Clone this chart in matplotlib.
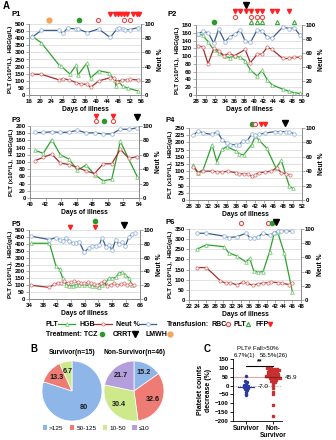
import numpy as np
import matplotlib.pyplot as plt
import matplotlib.transforms as mtransforms
from matplotlib.patches import Patch

plt.rcParams['font.family'] = ['Liberation Sans', 'DejaVu Sans']
plt.rcParams['font.size'] = 5
plt.rcParams['font.weight'] = 'bold'
plt.rcParams['axes.labelweight'] = 'bold'
plt.rcParams['axes.linewidth'] = 0.6

W, H = 336, 440

# ---------------- panel A data ----------------
p1_plt_day = [17, 20.4, 26.8, 27.4, 30.6, 32.9, 33.5, 36.6, 38, 40.9, 44.5, 46.6, 47, 47.8, 49.4, 51.5, 55]
p1_plt = [415, 368, 209, 204, 148, 211, 141, 223, 120, 171, 157, 106, 63, 99, 63, 47, 28]
p1_hgb_day = [17, 20.4, 26.8, 28, 30.4, 32.9, 34.5, 36.8, 38, 40.9, 45, 46.2, 47.4, 49.2, 51, 52, 55]
p1_hgb = [146, 146, 106, 115, 106, 87, 77, 75, 54, 99, 122, 117, 94, 106, 106, 110, 106]
p1_neut_day = [17, 20.4, 26.8, 28, 29.8, 32.9, 33.5, 36.8, 40.9, 45, 47.4, 48.2, 49.4, 50.4, 52, 55]
p1_neut = [81, 91, 91, 87, 94, 93, 93, 88, 93, 81, 93, 95, 93, 92, 92, 95]
p1_lmwh = [23.3]
p1_tcz = [33.9]
p1_rbc = [40.7, 49.8, 51.9]
p1_ffp = [45.1, 46.8, 47.9, 48.9, 50, 51, 53.3, 54.4, 55.4]

p2_day = [28.4, 29.4, 30.5, 31.7, 32.7, 34, 35, 36.1, 37.2, 38.2, 39.3, 40.7, 41.7, 42.8, 43.8, 46, 47.4, 48.4, 49.5]
p2_plt = [156, 154, 137, 116, 109, 99, 96, 100, 97, 88, 64, 49, 63, 39, 26, 15, 9, 6, 4]
p2_neut = [87, 91, 89, 74, 94, 76, 83, 87, 93, 77, 75, 93, 91, 83, 81, 97, 95, 96, 86]
p2_hgb_day = [28.4, 29.4, 30.5, 31.7, 32.7, 33.8, 34.8, 36, 38.2, 39.3, 40.7, 41.7, 42.8, 43.8, 46, 47.4, 48.4, 49.5]
p2_hgb = [127, 123, 80, 120, 114, 101, 107, 101, 117, 83, 105, 105, 123, 117, 94, 94, 97, 97]
p2_tcz = [31.7]
p2_ffp = [36, 37.2, 38.4, 39.5, 40.7, 41.8, 43.8, 44.9, 47.2]
p2_rbc = [36, 39.5, 40.7, 41.8]
p2_pltx = [39.5, 40.7, 41.8, 44.9, 48.4]
p2_crrt = [38.4]

p3_day = [40.7, 41.7, 42.8, 43.9, 45, 46.1, 47.2, 48.3, 49.4, 50.5, 51.6, 52.7, 53.8]
p3_neut = [91, 91, 92, 91, 91.5, 94, 90.5, 90.5, 89, 89, 95.5, 95.5, 97.5]
p3_hgb = [104, 113, 122, 97, 93, 85, 75, 68, 95, 95, 135, 110, 115]
p3_plt_day = [40.7, 41.7, 42.8, 43.9, 45, 46.1, 47.2, 48.3, 49.4, 50.5, 51.6, 53.8]
p3_plt = [132, 124, 162, 120, 108, 77, 92, 65, 48, 52, 157, 58]
p3_ffp = [48.5, 50.6]
p3_rbc = [48.5, 50.6]
p3_tcz = [49.5]
p3_crrt = [53.7]

p4_neut_day = [28.9, 30, 31, 32.9, 34, 35, 36, 36.8, 37.9, 38.7, 39.4, 40.3, 41.3, 42.1, 42.8, 44.2, 46.3, 47.4, 48.5, 49.3, 50.2]
p4_neut = [90, 96, 93, 91, 95, 84, 79, 77, 77, 77, 82, 82, 91, 90, 91, 93, 95, 95, 95, 95, 92]
p4_plt_day = [28.9, 29.9, 31, 32.9, 33.9, 35, 36, 37.9, 38.7, 39.6, 41.3, 42.1, 42.8, 44.5, 46.5, 47.6, 49.3, 50.1]
p4_plt = [122, 95, 105, 192, 133, 176, 185, 171, 160, 157, 192, 222, 209, 180, 110, 138, 48, 40]
p4_hgb_day = [28.9, 29.9, 31, 32.9, 34, 35, 36.2, 37.9, 38.7, 39.6, 40.5, 41.3, 42.1, 42.8, 44.2, 45.5, 46.6, 47.6, 48.5, 49.5]
p4_hgb = [116, 95, 100, 100, 98, 97, 100, 95, 91, 91, 91, 82, 87, 95, 97, 100, 112, 95, 91, 87]
p4_tcz = [41.3]
p4_rbc = [42.1]
p4_ffp = [43.2, 44.2]
p4_crrt = [48.3]

p5_neut_day = [34.7, 39.9, 41.8, 42.8, 43.7, 44.7, 45.6, 46.6, 47.5, 48.5, 49.9, 51.3, 52.3, 53.2, 54.2, 55.1, 56.1, 57, 58, 59,
               59.9, 60.9, 61.8, 62.8, 63.7, 64.7]
p5_neut = [91, 86, 89, 86, 84, 88, 84, 81, 81, 83, 68, 74, 77, 77, 78, 89, 76, 78, 71, 86, 79, 83, 77, 90, 94, 95]
p5_plt_day = [34.7, 39.9, 41.8, 42.8, 43.7, 44.7, 45.6, 46.6, 47.5, 48.5, 49.9, 51.3, 52.3, 53.2, 54.2, 55.1, 56.1, 57, 58, 59,
              59.9, 60.9, 61.8, 62.8, 63.7]
p5_plt = [404, 404, 236, 216, 151, 103, 96, 96, 103, 103, 103, 99, 96, 91, 84, 103, 115, 151, 151, 156, 188, 195, 175, 151, 103]
p5_hgb_day = [34.7, 39.9, 41.3, 42.3, 43.2, 44.2, 45.1, 46.1, 47, 48, 48.9, 49.9, 50.9, 51.8, 52.8, 53.7, 54.7, 55.6, 56.6, 57.5,
              58.5, 59.4, 60.4, 61.3, 62.3, 63.2, 64.2]
p5_hgb = [99, 84, 108, 115, 115, 127, 115, 123, 127, 123, 115, 115, 120, 115, 108, 103, 115, 127, 91, 103, 115, 99, 108, 115,
          103, 108, 103]
p5_ffp = [45.9, 53]
p5_tcz = [53]
p5_crrt = [61.3]

p6_plt_day = [23.8, 26, 30.1, 31.2, 33.1, 35.2, 36.1, 37, 38, 39.2, 40.7, 41.8, 42.6, 44.1, 46]
p6_plt = [250, 272, 263, 233, 217, 188, 205, 145, 137, 140, 237, 330, 333, 233, 40]
p6_neut_day = [23.8, 26, 30.1, 31.2, 33.1, 35.2, 36.1, 37, 38, 39.2, 40.7, 41.8, 42.6, 43.3, 44.5, 46]
p6_neut = [94, 94, 90, 88, 89, 94, 88, 87, 89, 94, 91, 95, 97, 97, 97, 97]
p6_hgb_day = [23.8, 26, 29.3, 30.6, 31.6, 33.1, 34.6, 35.4, 36.9, 38, 39.2, 40.3, 41.1, 42.6, 43.7, 45.3, 46]
p6_hgb = [160, 160, 95, 82, 85, 75, 88, 82, 72, 80, 83, 86, 88, 86, 82, 76, 82]
p6_rbc = [34.1, 40.3]
p6_tcz = [41.3]
p6_crrt = [42.2]

# ---------------- panel B data ----------------
pie_groups = ['>125', '50-125', '10-50', '≤10']
surv_pct = [80, 13.3, 6.7]
nonsurv_pct = [15.2, 32.6, 30.4, 21.7]

# ---------------- panel C data ----------------
surv_drop = [52, 25, 18, 10, 5, 0, -3, -8, -10, -15, -18, -25, -35, -45, -56]
nonsurv_drop = [100, 98, 97, 95, 93, 92, 90, 88, 86, 85, 82, 80, 78, 75, 72, 70, 68, 66, 64, 62, 60, 58, 56, 55, 53, 52,
                50, 48, 47, 45, 44, 42, 40, 38, 36, 32, 28, 25, 20, 15, 5, -13, -38, -48, -110, -170]

GREEN, GREEN_M = '#2ea12e', '#7ccb7c'
RED, RED_M = '#a3302a', '#dc7a7a'
BLUE, BLUE_M = '#3c5d8e', '#98b6dc'
EV = {
    'ffp': dict(marker='v', ms=3, color='#ff2222', mec='#ff2222'),
    'rbc': dict(marker='o', ms=3, mfc='white', mec='#f04a4a', mew=0.8),
    'pltx': dict(marker='^', ms=3, mfc='white', mec='#3aa83a', mew=0.8),
    'tcz': dict(marker='o', ms=3, color='#2a9a2a'),
    'crrt': dict(marker='v', ms=4, color='black'),
    'lmwh': dict(marker='o', ms=3.5, color='#f4a55a'),
}

fig = plt.figure(figsize=(W / 100, H / 100), dpi=100)
ov = fig.add_axes([0, 0, 1, 1])
ov.set_xlim(0, W)
ov.set_ylim(H, 0)
ov.axis('off')


def box(x0, y0, x1, y1):
    return [x0 / W, 1 - y1 / H, (x1 - x0) / W, (y1 - y0) / H]


def course(b, name, xr, xstep, ymax, ystep, pd, pv, hd, hv, nd, nv, events, rows, tpos):
    ax = fig.add_axes(box(*b))
    ax2 = ax.twinx()
    ax.plot(pd, pv, color=GREEN, lw=0.9, marker='^', ms=2.6, mfc='white', mec=GREEN_M, mew=0.6)
    ax.plot(hd, hv, color=RED, lw=0.9, marker='o', ms=2.3, mfc='white', mec=RED_M, mew=0.6)
    ax2.plot(nd, nv, color=BLUE, lw=0.9, marker='o', ms=2.6, mfc='white', mec=BLUE_M, mew=0.6)
    ax.set_xlim(*xr)
    ax.set_ylim(0, ymax)
    ax2.set_ylim(0, 100)
    ax.set_xticks(np.arange(xr[0], xr[1] + 0.1, xstep))
    ax.set_yticks(np.arange(0, ymax + 1, ystep))
    ax2.set_yticks(range(0, 101, 20))
    ax.yaxis.grid(True, color='#d6d6d6', lw=0.5)
    ax.set_axisbelow(True)
    for a in (ax, ax2):
        a.spines['top'].set_visible(False)
        for s in ('left', 'right', 'bottom'):
            a.spines[s].set_color('#8a8a8a')
        a.tick_params(length=2, width=0.5, pad=1, labelsize=4.4, color='#8a8a8a')
    ax.set_xlabel('Days of illness', fontsize=4.8, labelpad=1)
    ax.set_ylabel('PLT (x10⁹/L),  HBG(g/L)', fontsize=4.4, labelpad=1)
    ax2.set_ylabel('Neut %', fontsize=4.8, labelpad=1)
    ov.text(tpos[0], tpos[1], name, fontsize=5.5, va='center', ha='left')
    tr = mtransforms.blended_transform_factory(ax.transData, ax.transAxes)
    h = b[3] - b[1]
    for kind, days in events:
        ax.plot(days, [1 + rows[kind] / h] * len(days), transform=tr, clip_on=False,
                linestyle='none', **EV[kind])
    return ax


course((29, 24, 141, 95), 'P1', (16, 56), 4, 500, 50, p1_plt_day, p1_plt, p1_hgb_day, p1_hgb,
       p1_neut_day, p1_neut, [('lmwh', p1_lmwh), ('tcz', p1_tcz), ('rbc', p1_rbc), ('ffp', p1_ffp)],
       {'lmwh': 3.5, 'tcz': 3.5, 'rbc': 3.5, 'ffp': 10}, (12, 14))
course((196, 25, 302, 95), 'P2', (28, 50), 2, 180, 20, p2_day, p2_plt, p2_hgb_day, p2_hgb,
       p2_day, p2_neut, [('tcz', p2_tcz), ('pltx', p2_pltx), ('rbc', p2_rbc), ('ffp', p2_ffp), ('crrt', p2_crrt)],
       {'tcz': 3, 'pltx': 3, 'rbc': 8.5, 'ffp': 14, 'crrt': 20}, (168, 14))
course((30, 126, 139, 198), 'P3', (40, 54), 2, 200, 20, p3_plt_day, p3_plt, p3_day, p3_hgb,
       p3_day, p3_neut, [('rbc', p3_rbc), ('tcz', p3_tcz), ('ffp', p3_ffp), ('crrt', p3_crrt)],
       {'rbc': 4.5, 'tcz': 4.5, 'ffp': 10, 'crrt': 9}, (12, 120))
course((189, 128, 302, 200), 'P4', (28, 52), 2, 250, 25, p4_plt_day, p4_plt, p4_hgb_day, p4_hgb,
       p4_neut_day, p4_neut, [('tcz', p4_tcz), ('rbc', p4_rbc), ('ffp', p4_ffp), ('crrt', p4_crrt)],
       {'tcz': 4, 'rbc': 4, 'ffp': 4, 'crrt': 5}, (166, 120))
course((29, 230, 140, 299), 'P5', (34, 66), 4, 500, 50, p5_plt_day, p5_plt, p5_hgb_day, p5_hgb,
       p5_neut_day, p5_neut, [('ffp', p5_ffp), ('tcz', p5_tcz), ('crrt', p5_crrt)],
       {'ffp': 3, 'tcz': 8.5, 'crrt': 5}, (12, 225))
course((189, 229, 301, 300), 'P6', (22, 48), 2, 350, 50, p6_plt_day, p6_plt, p6_hgb_day, p6_hgb,
       p6_neut_day, p6_neut, [('rbc', p6_rbc), ('tcz', p6_tcz), ('crrt', p6_crrt)],
       {'rbc': 6, 'tcz': 6, 'crrt': 7}, (166, 223))

# legend rows for panel A (drawn on the overlay)
ly1, ly2 = 324, 334
fs = 5
ov.text(46, ly1, 'PLT', fontsize=fs, va='center')
ov.plot([58, 75], [ly1, ly1], color=GREEN, lw=0.9)
ov.plot([66.5], [ly1], marker='^', ms=2.6, mfc='white', mec=GREEN_M, mew=0.6)
ov.text(79, ly1, 'HGB', fontsize=fs, va='center')
ov.plot([93, 112], [ly1, ly1], color=RED, lw=0.9)
ov.plot([102.5], [ly1], marker='o', ms=2.3, mfc='white', mec=RED_M, mew=0.6)
ov.text(116, ly1, 'Neut %', fontsize=fs, va='center')
ov.plot([140, 156], [ly1, ly1], color=BLUE, lw=0.9)
ov.plot([148], [ly1], marker='o', ms=2.6, mfc='white', mec=BLUE_M, mew=0.6)
ov.text(167, ly1, 'Transfusion:', fontsize=fs, va='center')
ov.text(211, ly1, 'RBC', fontsize=fs, va='center')
ov.plot([228], [ly1], **EV['rbc'])
ov.text(234, ly1, 'PLT', fontsize=fs, va='center')
ov.plot([248], [ly1], **EV['pltx'])
ov.text(256, ly1, 'FFP', fontsize=fs, va='center')
ov.plot([270], [ly1], **EV['ffp'])
ov.text(46, ly2, 'Treatment: TCZ', fontsize=fs, va='center')
ov.plot([102], [ly2], **EV['tcz'])
ov.text(113, ly2, 'CRRT', fontsize=fs, va='center')
ov.plot([135], [ly2], **EV['crrt'])
ov.text(145, ly2, 'LMWH', fontsize=fs, va='center')
ov.plot([170], [ly2], **EV['lmwh'])

ov.text(3, 6, 'A', fontsize=7, va='center')
ov.text(30, 349, 'B', fontsize=7, va='center')
ov.text(204, 349, 'C', fontsize=7, va='center')

# ---------------- panel B ----------------
pie_colors = ['#8fb6e8', '#ee7c74', '#cde98c', '#b49fdc']
for vals, cx, title in [(surv_pct, 72, 'Survivor(n=15)'), (nonsurv_pct, 134, 'Non-Survivor(n=46)')]:
    pa = fig.add_axes(box(cx - 30, 361, cx + 30, 421))
    pa.pie(vals, colors=pie_colors[:len(vals)], startangle=90, counterclock=False,
           wedgeprops=dict(edgecolor='white', linewidth=0.5))
    # percentage labels at wedge centres
    ang = 90
    for v in vals:
        mid = np.deg2rad(ang - v * 3.6 / 2)
        pa.text(0.68 * np.cos(mid), 0.68 * np.sin(mid), f'{v:g}', ha='center', va='center',
                fontsize=5.2, color='#1a1a1a')
        ang -= v * 3.6
    pa.set_xlim(-1, 1)
    pa.set_ylim(-1, 1)
    pa.set_aspect('equal')
    ov.text(cx, 353, title, fontsize=4.8, ha='center', va='center')

handles = [Patch(facecolor=c, edgecolor='none') for c in pie_colors]
fig.legend(handles, pie_groups, loc='center', bbox_to_anchor=(96 / W, 1 - 428 / H), ncol=4,
           frameon=False, handlelength=0.7, handleheight=0.7, handletextpad=0.3,
           columnspacing=1.0, prop={'weight': 'normal', 'size': 4.6})


# ---------------- panel C ----------------
def swarm(vals, center, binw, step):
    vals = np.asarray(vals, float)
    xs = np.full(len(vals), float(center))
    bins = np.round(vals / binw)
    for b in np.unique(bins):
        idx = np.where(bins == b)[0]
        n = len(idx)
        xs[idx] = center + (np.arange(n) - (n - 1) / 2) * step
    return xs


cax = fig.add_axes(box(233, 359, 282, 421))
cax.axhline(50, color='#e6a3a3', lw=0.8, zorder=1)
cax.axhline(0, color='#888888', lw=0.6, ls=':', zorder=1)
cax.plot(swarm(surv_drop, 1, 12, 0.075), surv_drop, 'o', ms=1.5, color='#2b3aa0', zorder=3)
cax.plot(swarm(nonsurv_drop, 2, 12, 0.075), nonsurv_drop, 's', ms=1.4, color='#c83030', zorder=3)
sm, nm = np.mean(surv_drop), np.mean(nonsurv_drop)
cax.plot([0.72, 1.28], [sm, sm], color='#2b3aa0', lw=0.9, zorder=4)
cax.plot([1.72, 2.28], [nm, nm], color='#8a1f1f', lw=0.9, zorder=4)
cax.text(1.42, sm, f'{sm:.1f}', fontsize=4.6, va='center', weight='normal')
cax.text(2.42, nm, f'{nm:.1f}', fontsize=4.6, va='center', weight='normal', clip_on=False)
cax.plot([1, 2], [112, 112], color='black', lw=0.8)
cax.text(1.5, 115, '**', ha='center', va='bottom', fontsize=5)
cax.set_xlim(0.52, 2.33)
cax.set_ylim(-200, 150)
cax.set_yticks(range(-200, 151, 50))
cax.set_xticks([1, 2])
cax.set_xticklabels(['Survivor', 'Non-\nSurvivor'], fontsize=4.7, linespacing=0.9)
cax.tick_params(length=2, width=0.6, pad=1)
cax.tick_params(axis='y', labelsize=4.4)
for s in ('top', 'right'):
    cax.spines[s].set_visible(False)
cax.set_ylabel('Platelet counts\ndecrease (%)', fontsize=5, labelpad=2)

n_s = sum(v > 50 for v in surv_drop)
n_n = sum(v > 50 for v in nonsurv_drop)
ov.text(258, 348, 'PLT# Fall>50%', fontsize=4.4, ha='center', va='center', weight='normal')
ov.text(245, 356, f'{100 * n_s / len(surv_drop):.1f}%({n_s})', fontsize=4.4, ha='center', va='center',
        weight='normal')
ov.text(274, 356, f'{100 * n_n / len(nonsurv_drop):.1f}%({n_n})', fontsize=4.4, ha='center', va='center',
        weight='normal')

fig.savefig('out.png', dpi=100)
